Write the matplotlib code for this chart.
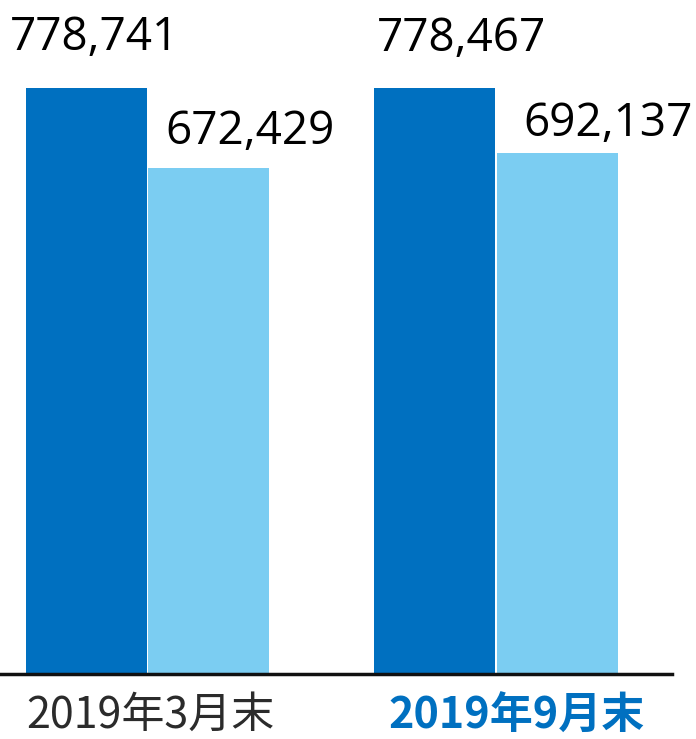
import matplotlib.pyplot as plt
import numpy as np

categories = ['2019年3月末', '2019年9月末']
series_a = [778741, 778467]
series_b = [672429, 692137]

dark = '#0070C0'
light = '#7BCDF2'

fig = plt.figure(figsize=(6.96, 7.39), dpi=100)
ax = fig.add_axes([0, 65 / 739, 672 / 696, 674 / 739])

x = np.arange(len(categories))
w = 0.347
bars_a = ax.bar(x - w / 2 - 0.002, series_a, w, color=dark)
bars_b = ax.bar(x + w / 2 + 0.002, series_b, w, color=light)

ax.set_xlim(-0.423, 1.505)
ax.set_ylim(0, 895660)
for s in ['top', 'right', 'left']:
    ax.spines[s].set_visible(False)
ax.spines['bottom'].set_linewidth(2.5)
ax.spines['bottom'].set_color('#111111')
ax.set_yticks([])
ax.set_xticks([])

# value labels (offsets in points, tuned to the reference)
offs_a = [(6, 27), (19, 27)]
offs_b = [(30, 17), (37, 12)]
for bars, vals, offs in [(bars_a, series_a, offs_a), (bars_b, series_b, offs_b)]:
    for b, v, o in zip(bars, vals, offs):
        ax.annotate(f'{v:,}', (b.get_x() + b.get_width() / 2, v), xytext=o,
                    textcoords='offset points', ha='center', va='baseline',
                    fontsize=33, family='Open Sans', color='black')

# category labels
ax.annotate(categories[0], (x[0], 0), xytext=(2, -30), textcoords='offset points',
            ha='center', va='center', fontsize=31, family=['Noto Sans CJK JP'],
            color='#2b2b2b')
ax.annotate(categories[1], (x[1], 0), xytext=(15, -30), textcoords='offset points',
            ha='center', va='center', fontsize=31, family=['Noto Sans CJK JP'],
            fontweight='bold', color=dark)

fig.savefig('out.png', dpi=100)
